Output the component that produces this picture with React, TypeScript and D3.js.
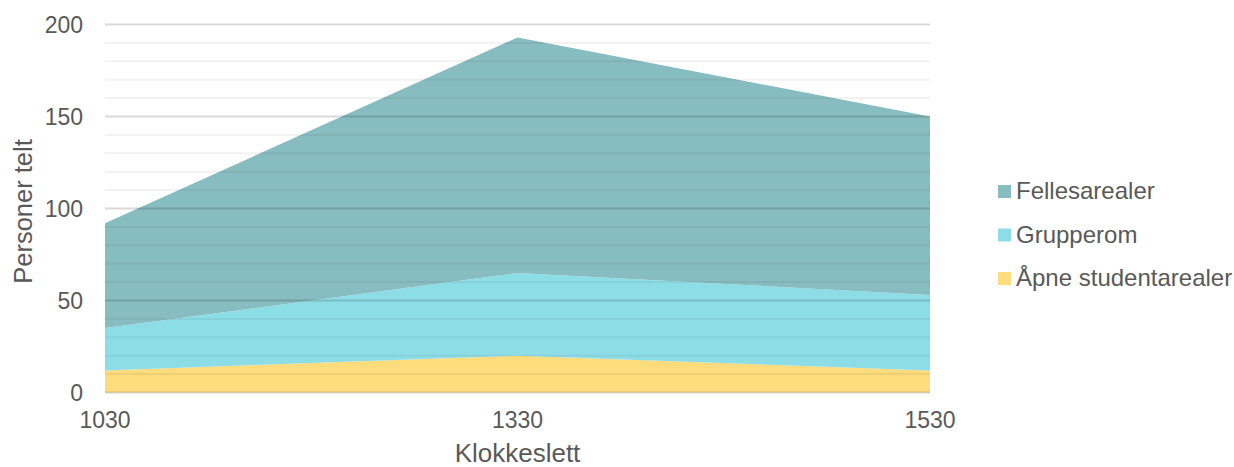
import React from "react";
import * as d3 from "d3";

const categories = ["1030", "1330", "1530"];
const seriesNames = ["Åpne studentarealer", "Grupperom", "Fellesarealer"];
const apne = [12, 20, 12];
const grupperom = [23, 45, 41];
const fellesarealer = [57, 128, 97];
const colors = ["#FDDC7E", "#8DDDE7", "#87BCC0"];
const yTicks = [0, 50, 100, 150, 200];

export default function App() {
  const W = 1234, H = 467;
  const left = 105, right = 930, top = 24.5, bottom = 392.5;
  const x = d3.scalePoint<string>().domain(categories).range([left, right]);
  const y = d3.scaleLinear().domain([0, 200]).range([bottom, top]);

  const rows = categories.map((c, i) => ({
    cat: c,
    [seriesNames[0]]: apne[i],
    [seriesNames[1]]: grupperom[i],
    [seriesNames[2]]: fellesarealer[i],
  }));
  const stack = d3.stack<any>().keys(seriesNames)(rows);
  const area = d3
    .area<any>()
    .x((d) => x(d.data.cat) as number)
    .y0((d) => y(d[0]))
    .y1((d) => y(d[1]));

  const minor = d3.range(0, 201, 10).filter((v) => v % 50 !== 0);
  const font = "'Liberation Sans', Arial, sans-serif";
  const legendOrder = [2, 1, 0];

  return (
    <svg width={W} height={H} style={{ position: "absolute", left: 0, top: 0, background: "#fff" }} fontFamily={font}>
      {stack.map((s, i) => (
        <path key={i} d={area(s as any) || ""} fill={colors[i]} />
      ))}
      {minor.map((v) => (
        <line key={"m" + v} x1={left} x2={right} y1={y(v)} y2={y(v)} stroke="#000" strokeOpacity={0.05} strokeWidth={2} />
      ))}
      {yTicks.map((v) => (
        <line key={"M" + v} x1={left} x2={right} y1={y(v)} y2={y(v)} stroke="#000" strokeOpacity={0.15} strokeWidth={2} />
      ))}
      {yTicks.map((v) => (
        <text key={"t" + v} x={83} y={y(v)} dy="0.35em" textAnchor="end" fontSize={23} fill="#595959">
          {v}
        </text>
      ))}
      {categories.map((c) => (
        <text key={c} x={x(c) as number} y={428} textAnchor="middle" fontSize={23} fill="#595959">
          {c}
        </text>
      ))}
      <text x={(left + right) / 2} y={462} textAnchor="middle" fontSize={26} fill="#595959">
        Klokkeslett
      </text>
      <text transform={`translate(32,${(top + bottom) / 2 + 3}) rotate(-90)`} textAnchor="middle" fontSize={25.5} fill="#595959">
        Personer telt
      </text>
      {legendOrder.map((si, k) => {
        const cy = 191 + k * 43.5;
        return (
          <g key={si}>
            <rect x={998} y={cy - 6} width={13} height={13} fill={colors[si]} />
            <text x={1016} y={cy} dy="0.35em" fontSize={24} fill="#595959">
              {seriesNames[si]}
            </text>
          </g>
        );
      })}
    </svg>
  );
}
